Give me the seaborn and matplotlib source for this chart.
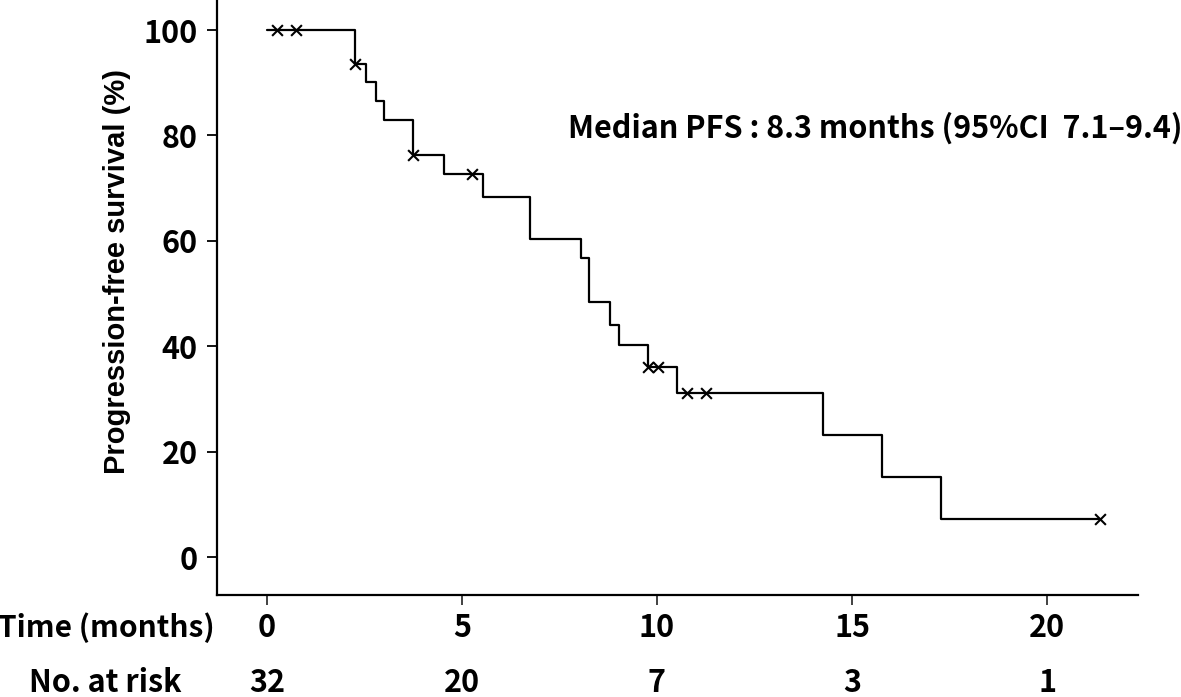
import matplotlib
matplotlib.use("Agg")
import matplotlib.pyplot as plt
import matplotlib.transforms as mtransforms
import pandas as pd
import seaborn as sns

# Kaplan-Meier steps (time in months, PFS in %)
step_time = [0.0, 2.26, 2.53, 2.79, 3.00, 3.75, 4.54, 5.53, 6.74, 8.05, 8.26,
             8.79, 9.03, 9.76, 10.51, 14.26, 15.78, 17.29, 21.36]
step_surv = [100.0, 93.5, 90.2, 86.6, 83.0, 76.2, 72.6, 68.4, 60.3, 56.7, 48.4,
             44.0, 40.2, 36.1, 31.1, 23.1, 15.1, 7.2, 7.2]

# censored observations
cens_time = [0.27, 0.75, 2.26, 3.75, 5.26, 9.76, 10.02, 10.78, 11.26, 21.36]
cens_surv = [100.0, 100.0, 93.5, 76.2, 72.6, 36.1, 36.1, 31.1, 31.1, 7.2]

x_ticks = [0, 5, 10, 15, 20]
y_ticks = [0, 20, 40, 60, 80, 100]
at_risk = [32, 20, 7, 3, 1]

sns.set_style("ticks")
plt.rcParams["font.family"] = ["Noto Sans CJK JP", "DejaVu Sans"]
plt.rcParams.update({
    "font.weight": "bold",
    "text.color": "black",
    "xtick.labelcolor": "black",
    "ytick.labelcolor": "black",
})

FS = 22

fig = plt.figure(figsize=(11.81, 6.97), dpi=100)
ax = fig.add_axes([0.1837, 0.1463, 0.7799, 0.8537])

df_km = pd.DataFrame({"t": step_time, "s": step_surv})
df_cens = pd.DataFrame({"t": cens_time, "s": cens_surv})

sns.lineplot(data=df_km, x="t", y="s", drawstyle="steps-post", estimator=None,
             color="black", linewidth=1.6, ax=ax)
sns.scatterplot(data=df_cens, x="t", y="s", marker="x", color="black",
                s=60, linewidth=1.5, ax=ax, zorder=3)

ax.set_xlim(-1.28, 22.33)
ax.set_ylim(-7.2, 105.7)
ax.set_xticks(x_ticks)
ax.set_yticks(y_ticks)
ax.set_xticklabels([str(v) for v in x_ticks], fontsize=FS, fontweight="bold")
ax.set_yticklabels([str(v) for v in y_ticks], fontsize=FS, fontweight="bold")
ax.tick_params(axis="y", length=7, width=1.3, pad=7, color="black")
ax.tick_params(axis="x", length=7, width=1.3, pad=5, color="#333333")
ax.set_xlabel("")
ax.set_ylabel("")
sns.despine(ax=ax)
for side in ["left", "bottom"]:
    ax.spines[side].set_linewidth(1.6)
    ax.spines[side].set_color("black")

fig.text(0.099, 0.61, "Progression-free survival (%)", rotation=90,
         ha="center", va="center", fontsize=21, fontweight="bold",
         family=["Liberation Sans", "DejaVu Sans"])

ax.text(7.72, 81.4, "Median PFS : 8.3 months (95%CI  7.1\u20139.4)",
        ha="left", va="center", fontsize=FS, fontweight="bold")

fig.text(0.182, 0.100, "Time (months)", ha="right", va="center",
         fontsize=21.5, fontweight="bold")
fig.text(0.0895, 0.020, "No. at risk", ha="center", va="center",
         fontsize=FS, fontweight="bold")

blend = mtransforms.blended_transform_factory(ax.transData, fig.transFigure)
for xv, n in zip(x_ticks, at_risk):
    ax.text(xv, 0.020, str(n), transform=blend, ha="center", va="center",
            fontsize=FS, fontweight="bold")

fig.savefig("out.png", dpi=100)
